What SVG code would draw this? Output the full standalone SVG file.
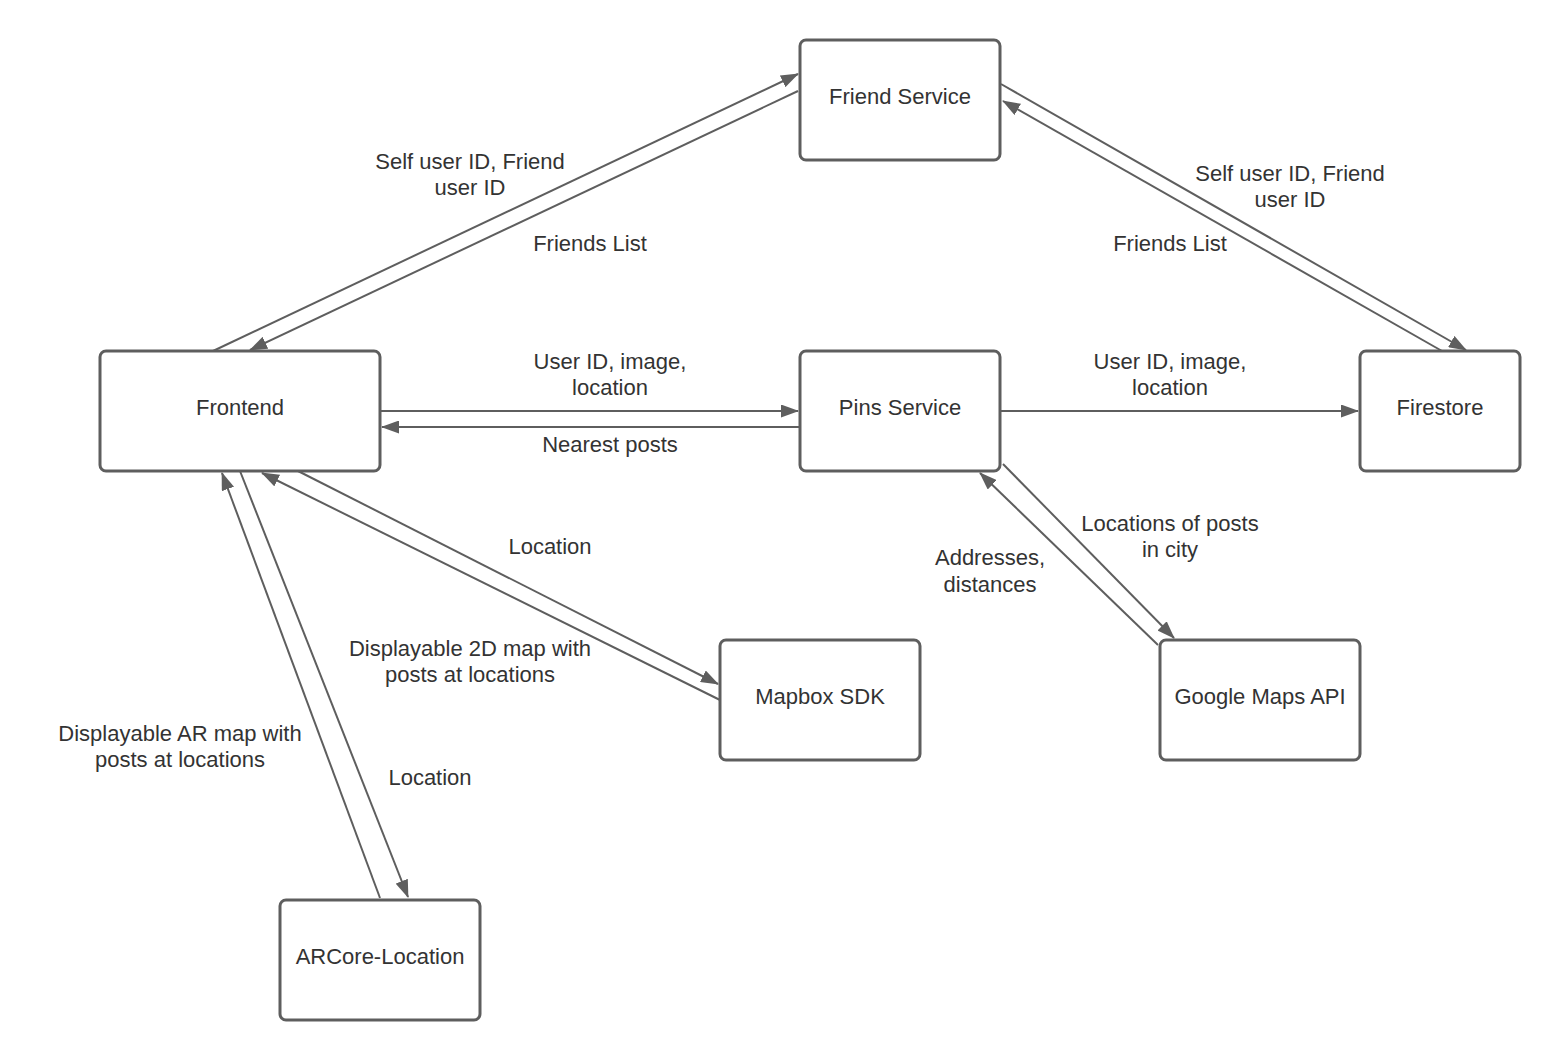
<svg xmlns="http://www.w3.org/2000/svg" width="1560" height="1060" viewBox="0 0 1560 1060">
<style>
.box{fill:#fff;stroke:#5e5e5e;stroke-width:3}
.lbl{font-family:"Liberation Sans",Arial,sans-serif;font-size:22px;fill:#333;text-anchor:middle}
.ln{stroke:#5e5e5e;stroke-width:2;fill:none;marker-end:url(#ah)}
</style>
<defs>
<marker id="ah" viewBox="0 0 18 13" refX="17" refY="6.5" markerWidth="18" markerHeight="13" markerUnits="userSpaceOnUse" orient="auto">
<path d="M0,0 L18,6.5 L0,13 z" fill="#5e5e5e"/>
</marker>
</defs>
<rect width="1560" height="1060" fill="#fff"/>
<g id="connectors">
<line class="ln" x1="213" y1="351" x2="798" y2="74"/>
<line class="ln" x1="798" y1="91" x2="250" y2="350"/>
<line class="ln" x1="1001" y1="84" x2="1466" y2="350"/>
<line class="ln" x1="1442" y1="351" x2="1003" y2="101"/>
<line class="ln" x1="380" y1="411" x2="798" y2="411"/>
<line class="ln" x1="800" y1="427" x2="382" y2="427"/>
<line class="ln" x1="1000" y1="411" x2="1358" y2="411"/>
<line class="ln" x1="1003" y1="464" x2="1174" y2="638"/>
<line class="ln" x1="1158" y1="645" x2="980" y2="473"/>
<line class="ln" x1="298" y1="471" x2="718" y2="684"/>
<line class="ln" x1="720" y1="700" x2="262" y2="473"/>
<line class="ln" x1="240" y1="471" x2="408" y2="897"/>
<line class="ln" x1="380" y1="898" x2="222" y2="473"/>
</g>
<g id="friend-service"><rect class="box" x="800" y="40" width="200" height="120" rx="6"/><text class="lbl" x="900" y="104">Friend Service</text></g>
<g id="frontend"><rect class="box" x="100" y="351" width="280" height="120" rx="6"/><text class="lbl" x="240" y="415">Frontend</text></g>
<g id="pins-service"><rect class="box" x="800" y="351" width="200" height="120" rx="6"/><text class="lbl" x="900" y="415">Pins Service</text></g>
<g id="firestore"><rect class="box" x="1360" y="351" width="160" height="120" rx="6"/><text class="lbl" x="1440" y="415">Firestore</text></g>
<g id="mapbox-sdk"><rect class="box" x="720" y="640" width="200" height="120" rx="6"/><text class="lbl" x="820" y="704">Mapbox SDK</text></g>
<g id="google-maps-api"><rect class="box" x="1160" y="640" width="200" height="120" rx="6"/><text class="lbl" x="1260" y="704">Google Maps API</text></g>
<g id="arcore-location"><rect class="box" x="280" y="900" width="200" height="120" rx="6"/><text class="lbl" x="380" y="964">ARCore-Location</text></g>
<g id="labels">
<text class="lbl" x="470" y="169">Self user ID, Friend</text>
<text class="lbl" x="470" y="195">user ID</text>
<text class="lbl" x="590" y="251">Friends List</text>
<text class="lbl" x="1290" y="181">Self user ID, Friend</text>
<text class="lbl" x="1290" y="207">user ID</text>
<text class="lbl" x="1170" y="251">Friends List</text>
<text class="lbl" x="610" y="369">User ID, image,</text>
<text class="lbl" x="610" y="395">location</text>
<text class="lbl" x="610" y="452">Nearest posts</text>
<text class="lbl" x="1170" y="369">User ID, image,</text>
<text class="lbl" x="1170" y="395">location</text>
<text class="lbl" x="1170" y="531">Locations of posts</text>
<text class="lbl" x="1170" y="557">in city</text>
<text class="lbl" x="990" y="565">Addresses,</text>
<text class="lbl" x="990" y="592">distances</text>
<text class="lbl" x="550" y="554">Location</text>
<text class="lbl" x="470" y="656">Displayable 2D map with</text>
<text class="lbl" x="470" y="682">posts at locations</text>
<text class="lbl" x="180" y="741">Displayable AR map with</text>
<text class="lbl" x="180" y="767">posts at locations</text>
<text class="lbl" x="430" y="785">Location</text>
</g>
</svg>
